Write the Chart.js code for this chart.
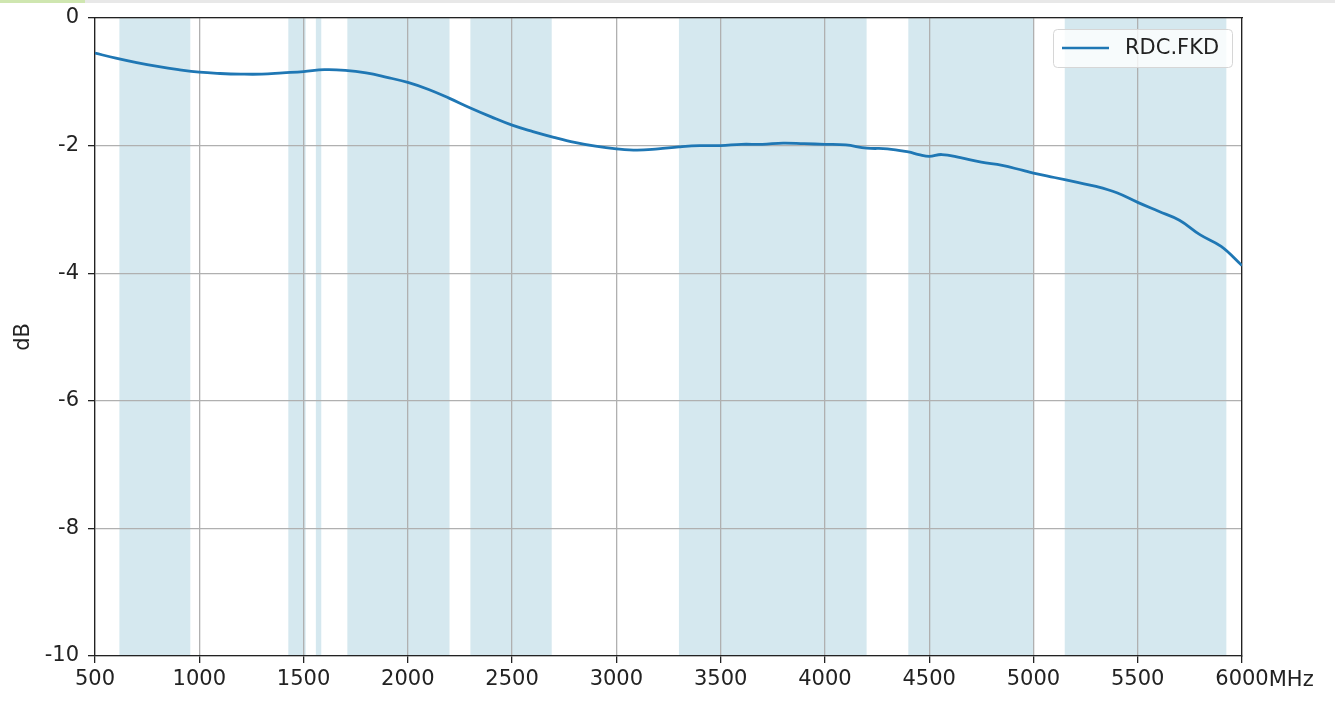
<!DOCTYPE html>
<html>
<head>
<meta charset="utf-8">
<script src="https://cdn.jsdelivr.net/npm/chart.js@4/dist/chart.umd.min.js"></script>
<style>
  html, body { margin: 0; padding: 0; background: #fff; }
  #wrap { position: relative; width: 1335px; height: 709px; }
  #topbar { position: absolute; left: 0; top: 0; width: 1335px; height: 3px; background: #e8e8e8; }
  #topbar span { display: block; width: 85px; height: 3px; background: #cfe6b0; }
</style>
</head>
<body>
<div id="wrap">
  <canvas id="chart" width="1335" height="709"></canvas>
  <div id="topbar"><span></span></div>
</div>
<script>
// frekans (MHz) ve kayıp (dB)
const freqs = [500, 600, 700, 800, 900, 1000, 1100, 1200, 1300, 1400, 1500, 1600, 1700, 1800, 1900,
  2000, 2100, 2200, 2300, 2400, 2500, 2600, 2700, 2800, 2900, 3000, 3100, 3200, 3300, 3400, 3500,
  3600, 3700, 3800, 3900, 4000, 4100, 4200, 4300, 4400, 4450, 4500, 4560, 4650, 4750, 4850, 4950, 5000,
  5100, 5200, 5300, 5400, 5500, 5600, 5700, 5800, 5900, 6000];
const lossDb = [-0.55, -0.63, -0.70, -0.76, -0.81, -0.85, -0.87, -0.88, -0.88, -0.86, -0.84, -0.81, -0.82, -0.86, -0.93,
  -1.01, -1.12, -1.26, -1.41, -1.55, -1.68, -1.78, -1.87, -1.95, -2.01, -2.05, -2.07, -2.05, -2.02, -2.00, -2.00,
  -1.98, -1.98, -1.96, -1.97, -1.98, -1.99, -2.04, -2.05, -2.10, -2.14, -2.17, -2.14, -2.19, -2.26, -2.31, -2.39, -2.43,
  -2.50, -2.57, -2.64, -2.74, -2.89, -3.03, -3.17, -3.40, -3.58, -3.88];

// mavi bantlar (MHz)
const bandStart = [617, 1427, 1559, 1710, 2300, 3300, 4400, 5150];
const bandEnd   = [957, 1510, 1585, 2200, 2690, 4200, 5000, 5925];

const xTicks = [500, 1000, 1500, 2000, 2500, 3000, 3500, 4000, 4500, 5000, 5500, 6000];
const yTicks = [0, -2, -4, -6, -8, -10];

const seriesName = 'RDC.FKD';
const unitLabel = 'MHz';
const yTitle = 'dB';

const FONT = 'DejaVu Sans';
const FS = 21;

function noPad(s) {
  s.paddingTop = 0; s.paddingBottom = 0; s.paddingLeft = 0; s.paddingRight = 0;
}

const bandsPlugin = {
  id: 'bands',
  beforeDraw(chart) {
    const { ctx, chartArea, scales } = chart;
    ctx.save();
    ctx.fillStyle = '#d5e8ef';
    for (let i = 0; i < bandStart.length; i++) {
      const x1 = scales.x.getPixelForValue(bandStart[i]);
      const x2 = scales.x.getPixelForValue(bandEnd[i]);
      ctx.fillRect(x1, chartArea.top, x2 - x1, chartArea.bottom - chartArea.top);
    }
    ctx.restore();
  }
};

const extrasPlugin = {
  id: 'extras',
  afterDraw(chart) {
    const { ctx, scales } = chart;
    ctx.save();
    // MHz yazısı
    ctx.font = FS + 'px ' + FONT;
    ctx.fillStyle = '#222';
    ctx.textBaseline = 'middle';
    ctx.textAlign = 'left';
    const last = scales.x.getPixelForValue(6000);
    const w = ctx.measureText('6000').width;
    ctx.fillText(unitLabel, last + w / 2, 681);

    // lejant kutusu
    const bx = 1053, by = 29, bw = 179, bh = 38, r = 4;
    ctx.beginPath();
    ctx.roundRect(bx + 0.5, by + 0.5, bw, bh, r);
    ctx.fillStyle = 'rgba(255,255,255,0.8)';
    ctx.fill();
    ctx.strokeStyle = '#d6d6d6';
    ctx.lineWidth = 1;
    ctx.stroke();
    ctx.beginPath();
    ctx.moveTo(bx + 9, by + 19);
    ctx.lineTo(bx + 56, by + 19);
    ctx.strokeStyle = '#1f77b4';
    ctx.lineWidth = 2.6;
    ctx.stroke();
    ctx.fillStyle = '#222';
    ctx.font = FS + 'px ' + FONT;
    ctx.fillText(seriesName, bx + 72, by + 20);
    ctx.restore();
  }
};

const ctx = document.getElementById('chart').getContext('2d');
new Chart(ctx, {
  type: 'scatter',
  data: {
    datasets: [{
      label: seriesName,
      data: freqs.map((f, i) => ({ x: f, y: lossDb[i] })),
      showLine: true,
      borderColor: '#1f77b4',
      borderWidth: 2.8,
      pointRadius: 0,
      tension: 0.4,
      fill: false
    }]
  },
  options: {
    responsive: false,
    animation: false,
    layout: { padding: { top: 18, right: 93, left: 0, bottom: 0 } },
    plugins: {
      legend: { display: false },
      tooltip: { enabled: false }
    },
    scales: {
      x: {
        type: 'linear',
        min: 500,
        max: 6000,
        afterBuildTicks: (s) => { s.ticks = xTicks.map(v => ({ value: v })); },
        afterFit: (s) => { s.height = 53; noPad(s); },
        ticks: {
          color: '#222',
          font: { family: FONT, size: FS },
          padding: 4,
          maxRotation: 0,
          autoSkip: false,
          callback: (v) => String(v)
        },
        grid: { color: '#b0b0b0', lineWidth: 1.3, tickLength: 7, tickColor: '#222', drawTicks: true },
        border: { color: '#222', width: 1.3 }
      },
      y: {
        min: -10,
        max: 0,
        afterBuildTicks: (s) => { s.ticks = yTicks.map(v => ({ value: v })); },
        afterFit: (s) => { s.width = 95; noPad(s); },
        title: {
          display: true,
          text: yTitle,
          color: '#222',
          font: { family: FONT, size: FS },
          padding: { top: 11, bottom: 0 }
        },
        ticks: {
          color: '#222',
          font: { family: FONT, size: FS },
          padding: 9,
          callback: (v) => String(v)
        },
        grid: { color: '#b0b0b0', lineWidth: 1.3, tickLength: 7, tickColor: '#222' },
        border: { color: '#222', width: 1.3 }
      },
      x2: {
        type: 'linear', position: 'top', min: 500, max: 6000,
        ticks: { display: false }, grid: { display: false },
        border: { color: '#222', width: 1.3 }, afterFit: (s) => { s.height = 0; noPad(s); }
      },
      y2: {
        type: 'linear', position: 'right', min: -10, max: 0,
        ticks: { display: false }, grid: { display: false },
        border: { color: '#222', width: 1.3 }, afterFit: (s) => { s.width = 0; noPad(s); }
      }
    }
  },
  plugins: [bandsPlugin, extrasPlugin]
});
</script>
</body>
</html>
